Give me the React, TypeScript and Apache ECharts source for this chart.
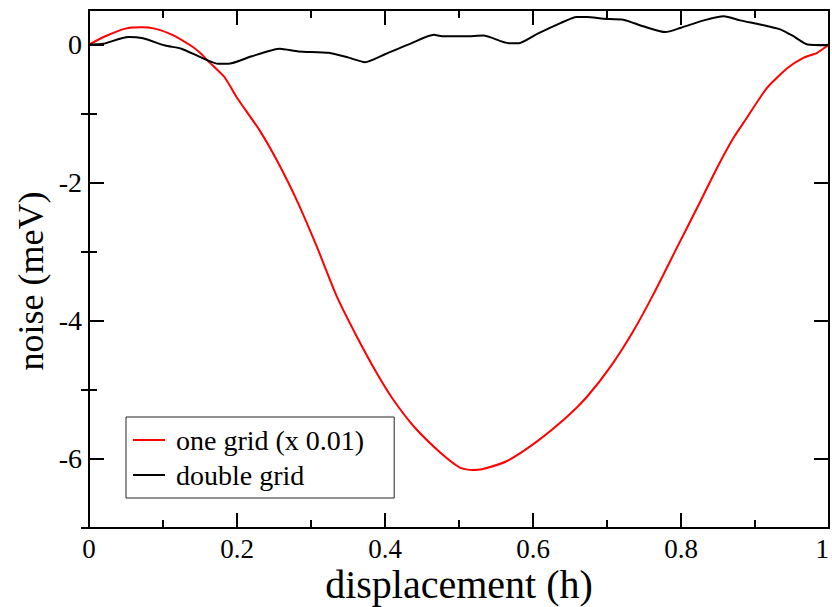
import React, { useEffect, useRef } from "react";
import * as echarts from "echarts";

const xOneGrid = [0, 0.022, 0.049, 0.071, 0.089, 0.112, 0.139, 0.15, 0.161, 0.183, 0.2, 0.231, 0.254, 0.281, 0.308, 0.335, 0.362, 0.389, 0.411, 0.439, 0.475, 0.502, 0.518, 0.531, 0.565, 0.605, 0.646, 0.673, 0.705, 0.736, 0.763, 0.795, 0.822, 0.849, 0.871, 0.889, 0.916, 0.944, 0.966, 0.984, 1.0];
const yOneGrid = [0, 0.12, 0.23, 0.25, 0.23, 0.144, -0.025, -0.12, -0.24, -0.47, -0.77, -1.25, -1.68, -2.26, -2.93, -3.65, -4.23, -4.76, -5.14, -5.53, -5.91, -6.13, -6.16, -6.15, -6.03, -5.75, -5.39, -5.1, -4.66, -4.14, -3.61, -2.93, -2.36, -1.78, -1.35, -1.06, -0.63, -0.34, -0.19, -0.12, 0];

const xDoubleGrid = [0, 0.019, 0.053, 0.073, 0.103, 0.125, 0.152, 0.175, 0.188, 0.22, 0.258, 0.283, 0.324, 0.351, 0.373, 0.4, 0.436, 0.466, 0.477, 0.508, 0.533, 0.567, 0.581, 0.605, 0.637, 0.659, 0.673, 0.695, 0.722, 0.75, 0.779, 0.799, 0.831, 0.858, 0.88, 0.907, 0.934, 0.952, 0.971, 0.997, 1.0];
const yDoubleGrid = [0, 0.01, 0.11, 0.09, -0.015, -0.06, -0.19, -0.28, -0.28, -0.17, -0.06, -0.1, -0.12, -0.19, -0.255, -0.14, 0.02, 0.14, 0.12, 0.12, 0.13, 0.02, 0.02, 0.15, 0.31, 0.4, 0.4, 0.375, 0.36, 0.26, 0.18, 0.24, 0.35, 0.41, 0.35, 0.29, 0.22, 0.12, 0.0, -0.01, 0];

const yMajorTicks = [-6, -4, -2, 0];
const yMinorTicks = [-7, -5, -3, -1];
const seriesNames = ["one grid (x 0.01)", "double grid"];

const FONT = "'Liberation Serif', 'Times New Roman', serif";
const line = { color: "#000", width: 2 };

export default function App() {
  const ref = useRef<HTMLDivElement>(null);
  useEffect(() => {
    if (!ref.current) return;
    const chart = echarts.init(ref.current, undefined, { renderer: "svg" });
    const zip = (xs: number[], ys: number[]) => xs.map((x, i) => [x, ys[i]]);
    const xBase = {
      type: "value" as const,
      min: 0,
      max: 1,
      interval: 0.2,
      axisLine: { show: true, onZero: false, lineStyle: line },
      axisTick: { show: true, inside: true, length: 15, lineStyle: line },
      minorTick: { show: true, splitNumber: 2, length: 8, lineStyle: line },
      splitLine: { show: false },
      minorSplitLine: { show: false },
    };
    const yBase = {
      type: "value" as const,
      min: -7,
      max: 0.5,
      splitLine: { show: false },
    };
    chart.setOption({
      animation: false,
      backgroundColor: "#fff",
      grid: { left: 89, right: 3, top: 10, bottom: 79, outerBoundsMode: "none", containLabel: false },
      legend: {
        orient: "vertical",
        left: 126,
        top: 417,
        data: seriesNames,
        icon: "rect",
        itemWidth: 32,
        itemHeight: 2,
        itemGap: 7,
        padding: [9, 30, 9, 7],
        backgroundColor: "#fff",
        borderColor: "#222",
        borderWidth: 1,
        textStyle: { fontFamily: FONT, fontSize: 28, color: "#000", padding: [0, 0, 0, 6] },
      },
      xAxis: [
        {
          ...xBase,
          position: "bottom",
          axisLabel: { fontFamily: FONT, fontSize: 27, lineHeight: 22, color: "#000", margin: 10, alignMaxLabel: "right" },
          name: "displacement (h)",
          nameLocation: "middle",
          nameGap: 40,
          nameMoveOverlap: false,
          nameTextStyle: { fontFamily: FONT, fontSize: 40, lineHeight: 32, color: "#000" },
        },
        { ...xBase, position: "top", axisLabel: { show: false } },
      ],
      yAxis: [
        {
          ...yBase,
          position: "left",
          axisLine: { show: true, onZero: false, lineStyle: line },
          axisTick: { show: true, inside: true, length: 15, customValues: yMajorTicks, lineStyle: line },
          axisLabel: { customValues: yMajorTicks, fontFamily: FONT, fontSize: 28, color: "#000", margin: 7 },
          name: "noise (meV)",
          nameLocation: "middle",
          nameGap: 40,
          nameRotate: 90,
          nameMoveOverlap: false,
          nameTextStyle: { fontFamily: FONT, fontSize: 36, color: "#000", padding: [0, 24, 0, 0] },
        },
        {
          ...yBase,
          position: "left",
          axisLine: { show: false },
          axisTick: { show: true, inside: true, length: 8, customValues: yMinorTicks, lineStyle: line },
          axisLabel: { show: false },
        },
        {
          ...yBase,
          position: "right",
          axisLine: { show: true, onZero: false, lineStyle: line },
          axisTick: { show: true, inside: true, length: 15, customValues: yMajorTicks, lineStyle: line },
          axisLabel: { show: false },
        },
        {
          ...yBase,
          position: "right",
          axisLine: { show: false },
          axisTick: { show: true, inside: true, length: 8, customValues: yMinorTicks, lineStyle: line },
          axisLabel: { show: false },
        },
      ],
      series: [
        {
          name: seriesNames[0],
          type: "line",
          xAxisIndex: 0,
          yAxisIndex: 0,
          data: zip(xOneGrid, yOneGrid),
          showSymbol: false,
          smooth: 0.2,
          lineStyle: { color: "#ff0000", width: 2 },
          itemStyle: { color: "#ff0000" },
        },
        {
          name: seriesNames[1],
          type: "line",
          xAxisIndex: 0,
          yAxisIndex: 0,
          data: zip(xDoubleGrid, yDoubleGrid),
          showSymbol: false,
          smooth: 0.2,
          lineStyle: { color: "#000", width: 2 },
          itemStyle: { color: "#000" },
        },
      ],
    });
    return () => chart.dispose();
  }, []);
  return (
    <div
      ref={ref}
      style={{ position: "fixed", left: 0, top: 0, width: 832, height: 607, background: "#fff" }}
    />
  );
}
